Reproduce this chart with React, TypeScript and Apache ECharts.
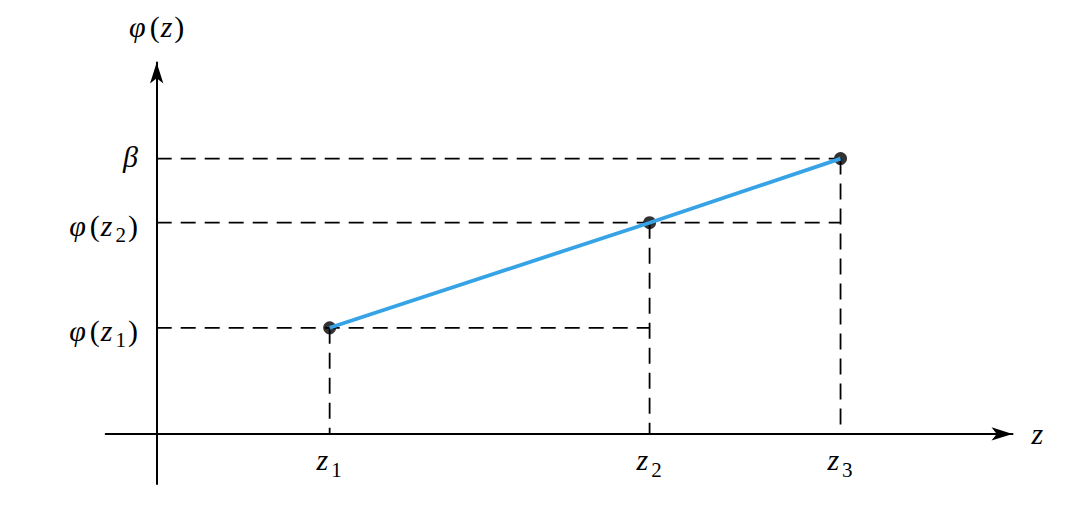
import React, { useEffect, useRef } from "react";
import * as echarts from "echarts";

// data (arbitrary units, origin at the axes' crossing)
const zNames = ["z1", "z2", "z3"];
const zSubs = ["1", "2", "3"];
const zValues = [17.3, 49.3, 68.4];
const phiValues = [10.6, 21.1, 27.5];
const yTickNames = ["φ(z1)", "φ(z2)", "β"];
const xRange = [-5.1, 85.6];
const yRange = [-5.0, 37.1];

const FONT = "'Liberation Serif', 'Times New Roman', 'DejaVu Serif', serif";
const INK = "#000000";
const FS = 30;
const SFS = 21;

const mainTok = (italic: boolean, padL = 0, padR = 0) => ({
  fontFamily: FONT,
  fontStyle: italic ? "italic" : "normal",
  fontSize: FS,
  color: INK,
  verticalAlign: "bottom",
  padding: [10.6, padR, 5.6, padL],
});

const rich = {
  ph: mainTok(true, 0, 4),
  lp: mainTok(false, 0, 1),
  it: mainTok(true, 0, 2),
  rp: mainTok(false, 1, 0),
  be: { fontFamily: FONT, fontStyle: "italic", fontSize: FS, color: INK, verticalAlign: "bottom", padding: [0, 0, 4, 0] },
  sub: { fontFamily: FONT, fontSize: SFS, color: INK, verticalAlign: "bottom", padding: [0, 1, 0, 1] },
};

const nameRich = {
  ph: { fontFamily: FONT, fontStyle: "italic", fontSize: FS, color: INK, padding: [0, 4, 0, 0] },
  lp: { fontFamily: FONT, fontSize: FS, color: INK, padding: [0, 1, 0, 0] },
  it: { fontFamily: FONT, fontStyle: "italic", fontSize: FS, color: INK, padding: [0, 2, 0, 0] },
  rp: { fontFamily: FONT, fontSize: FS, color: INK },
};

const near = (a: number, b: number) => Math.abs(a - b) < 1e-6;

export default function App() {
  const ref = useRef<HTMLDivElement>(null);
  useEffect(() => {
    if (!ref.current) return;
    const chart = echarts.init(ref.current, null, { renderer: "svg" });

    const guides: any[] = [];
    zValues.forEach((z, i) => {
      const zEnd = zValues[Math.min(i + 1, zValues.length - 1)];
      guides.push({
        type: "line",
        data: [[0, phiValues[i]], [zEnd, phiValues[i]]],
        showSymbol: false,
        silent: true,
        z: 1,
        lineStyle: { color: INK, width: 1.8, type: [15, 9] },
      });
      guides.push({
        type: "line",
        data: [[z, phiValues[i]], [z, 0]],
        showSymbol: false,
        silent: true,
        z: 1,
        lineStyle: { color: INK, width: 1.8, type: [16, 9] },
      });
    });

    const points = zValues.map((z, i) => [z, phiValues[i]]);

    chart.setOption({
      animation: false,
      textStyle: { fontFamily: FONT },
      grid: { left: 105.7, right: 75.5, top: 62.5, bottom: 26, containLabel: false, outerBoundsMode: "none" },
      xAxis: {
        type: "value",
        min: xRange[0],
        max: xRange[1],
        name: "z",
        nameLocation: "end",
        nameGap: 19,
        nameTextStyle: {
          fontFamily: FONT,
          fontStyle: "italic",
          fontSize: FS,
          color: INK,
          verticalAlign: "middle",
          padding: [4, 0, 0, 0],
        },
        axisLine: {
          onZero: true,
          symbol: ["none", "arrow"],
          symbolSize: [10, 21],
          lineStyle: { color: INK, width: 2 },
        },
        axisTick: { show: false },
        splitLine: { show: false },
        axisLabel: {
          customValues: zValues,
          margin: -49.8,
          fontFamily: FONT,
          fontSize: FS,
          formatter: (v: number) => {
            const i = zValues.findIndex((z) => near(z, v));
            if (i < 0) return "";
            return `{it|z}{sub|${zSubs[i]}}`;
          },
          rich,
        },
      },
      yAxis: {
        type: "value",
        min: yRange[0],
        max: yRange[1],
        name: "{ph|φ}{lp|(}{it|z}{rp|)}",
        nameLocation: "end",
        nameGap: 21,
        nameTextStyle: { rich: nameRich, align: "center", fontFamily: FONT, fontSize: FS },
        axisLine: {
          onZero: true,
          symbol: ["none", "arrow"],
          symbolSize: [10, 21],
          lineStyle: { color: INK, width: 2 },
        },
        axisTick: { show: false },
        splitLine: { show: false },
        axisLabel: {
          customValues: phiValues,
          margin: -32.3,
          fontFamily: FONT,
          fontSize: FS,
          formatter: (v: number) => {
            const i = phiValues.findIndex((p) => near(p, v));
            if (i < 0) return "";
            const n = yTickNames[i];
            if (n === "β") return "{be|β}";
            return `{ph|φ}{lp|(}{it|z}{sub|${zSubs[i]}}{rp|)}`;
          },
          rich,
        },
      },
      series: [
        ...guides,
        {
          type: "scatter",
          data: points,
          symbol: "circle",
          symbolSize: 13,
          itemStyle: { color: "#000000" },
          z: 2,
          silent: true,
        },
        {
          type: "line",
          data: points,
          showSymbol: false,
          z: 3,
          silent: true,
          lineStyle: { color: "#36a3e6", width: 3.8 },
        },
      ],
    });
    return () => chart.dispose();
  }, []);
  return (
    <div
      ref={ref}
      style={{ position: "fixed", left: 0, top: 0, width: 1088, height: 510, background: "#ffffff" }}
    />
  );
}
